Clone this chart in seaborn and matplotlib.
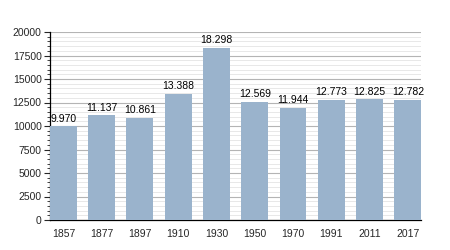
import matplotlib
matplotlib.use("Agg")
import matplotlib.pyplot as plt
from matplotlib.ticker import MultipleLocator
import pandas as pd
import seaborn as sns

years = ["1857", "1877", "1897", "1910", "1930", "1950", "1970", "1991", "2011", "2017"]
population = [9970, 11137, 10861, 13388, 18298, 12569, 11944, 12773, 12825, 12782]
labels = [f"{v:,}".replace(",", ".") for v in population]

df = pd.DataFrame({"year": years, "pop": population})

sns.set_style("white")
plt.rcParams["font.family"] = ["Liberation Sans", "DejaVu Sans"]

fig = plt.figure(figsize=(4.5, 2.5), dpi=100)
ax = fig.add_axes([0.111, 0.12, 0.825, 0.752])

sns.barplot(data=df, x="year", y="pop", color="#9ab3cc", width=0.7,
            saturation=1, ax=ax, zorder=3, edgecolor="none", linewidth=0)

ax.set_xlim(-0.35, 9.35)
ax.set_ylim(0, 20000)
ax.yaxis.set_major_locator(MultipleLocator(2500))
ax.yaxis.set_minor_locator(MultipleLocator(500))
ax.grid(axis="y", which="major", color="#b4b4b4", linewidth=0.8, zorder=0)
ax.grid(axis="y", which="minor", color="#e4e4e4", linewidth=0.6, zorder=0)
ax.set_axisbelow(True)

for s in ["top", "right"]:
    ax.spines[s].set_visible(False)
for s in ["left", "bottom"]:
    ax.spines[s].set_color("black")
    ax.spines[s].set_linewidth(0.9)

ax.tick_params(axis="y", which="major", left=True, length=4, width=0.8, labelsize=7.5, pad=2)
ax.tick_params(axis="y", which="minor", left=True, length=2, width=0.6)
ax.tick_params(axis="x", bottom=False, labelsize=7.5, pad=3)
ax.set_xlabel("")
ax.set_ylabel("")

ax.bar_label(ax.containers[0], labels=labels, fontsize=7.5, padding=2, color="black")

fig.savefig("out.png", dpi=100)
